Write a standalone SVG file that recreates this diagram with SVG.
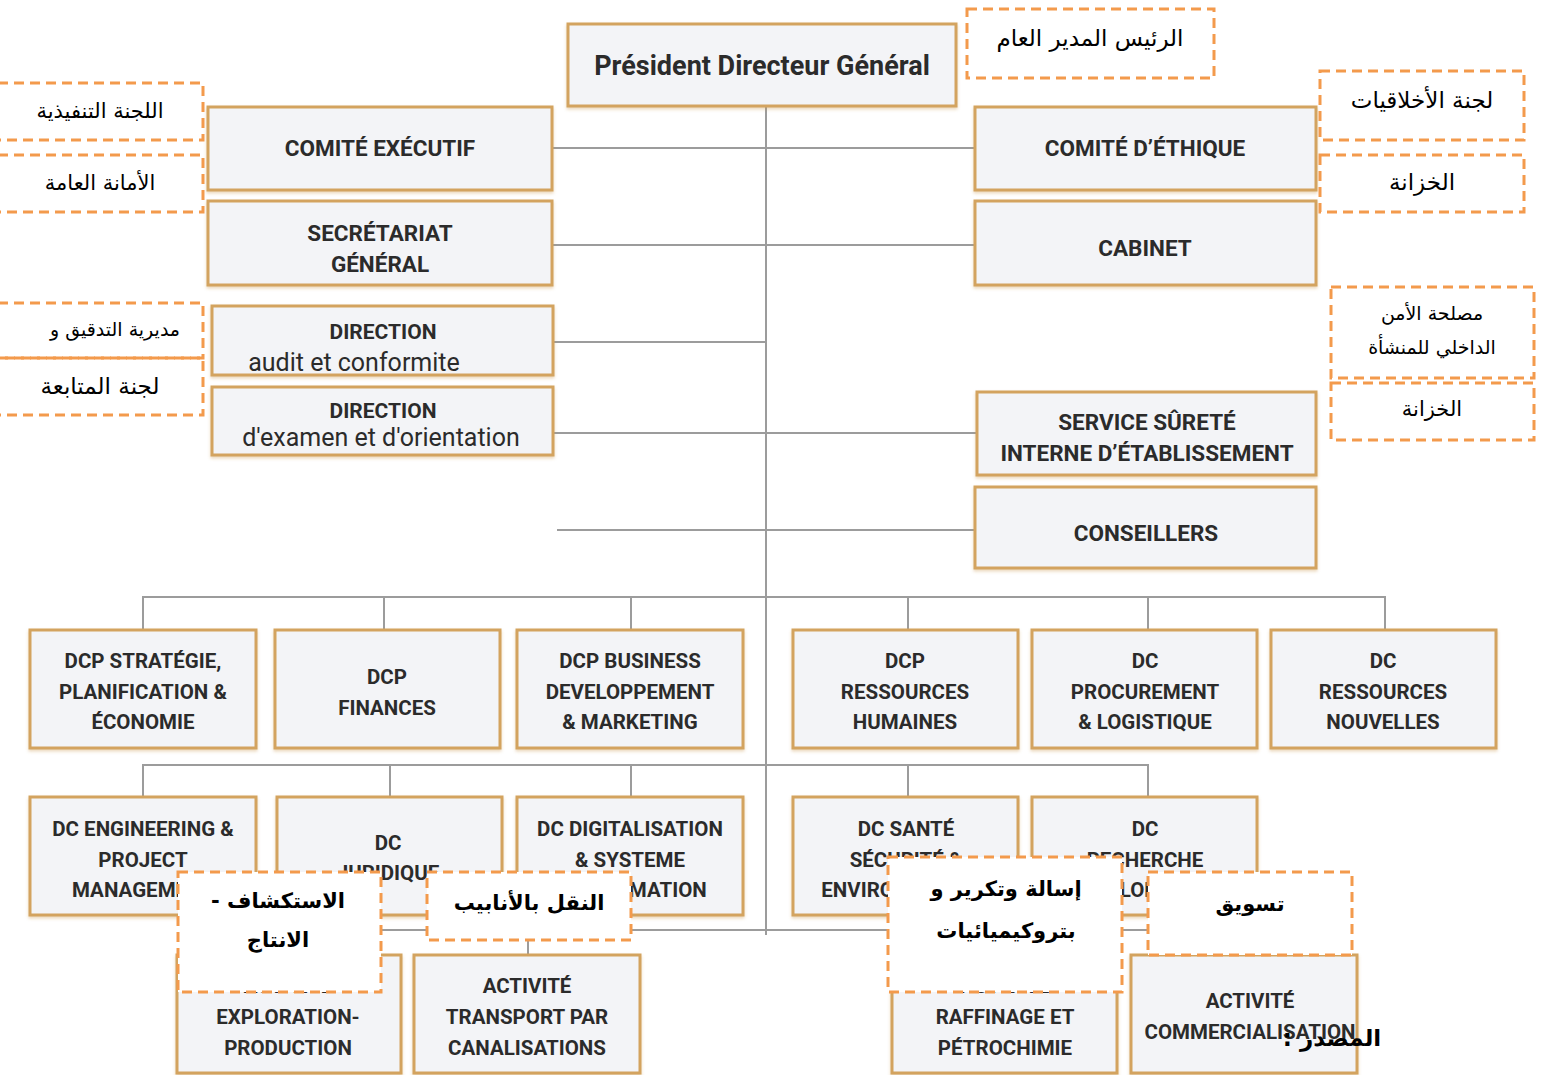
<svg xmlns="http://www.w3.org/2000/svg" width="1541" height="1075" viewBox="0 0 1541 1075">
<defs>
<filter id="sh" x="-5%" y="-5%" width="110%" height="115%"><feDropShadow dx="0" dy="2" stdDeviation="1.5" flood-color="#c89040" flood-opacity="0.35"/></filter>
</defs>
<style>
.box{fill:#f3f4f7;stroke:#d3a35e;stroke-width:3;filter:url(#sh)}
.t{font-family:Roboto,"Liberation Sans",sans-serif;font-weight:bold;fill:#2b2b2b;text-anchor:middle;font-size:20.5px}
.tb{font-size:22.5px}
.td{font-size:21px}
.tr{font-weight:normal;font-size:25px}
.ln{stroke:#9c9c9c;stroke-width:2;fill:none}
.ar{fill:none;stroke:#f39a4c;stroke-width:3;stroke-dasharray:10 6}
.arw{fill:#ffffff;stroke:#f39a4c;stroke-width:3;stroke-dasharray:10 6}
.a{font-family:"DejaVu Sans","Liberation Sans",sans-serif;fill:#000;text-anchor:middle;direction:rtl;unicode-bidi:embed;font-size:21px}
.ab{font-weight:bold}
</style>
<rect x="0" y="0" width="1541" height="1075" fill="#ffffff"/>
<g id="connectors">
<path class="ln" d="M766 106V935"/>
<path class="ln" d="M552 148H975M552 245H975M553 342H766M553 433H977M557 530H975"/>
<path class="ln" d="M143 630V597H1385V630M384 597V630M631 597V630M908 597V630M1148 597V630"/>
<path class="ln" d="M143 797V765H1148V797M390 765V797M631 765V797M908 765V797"/>
<path class="ln" d="M288 955V930H1250V955M528 930V955M1005 930V955"/>
</g>
<g id="pdg"><rect class="box" x="568" y="24" width="388" height="82"/><text class="t" x="762" y="75" style="font-size:27px">Président Directeur Général</text></g>
<g id="comite-executif"><rect class="box" x="208" y="107" width="344" height="83"/><text class="t tb" x="380" y="156">COMITÉ EXÉCUTIF</text></g>
<g id="secretariat"><rect class="box" x="208" y="201" width="344" height="84"/><text class="t tb" x="380" y="241">SECRÉTARIAT</text><text class="t tb" x="380" y="272">GÉNÉRAL</text></g>
<g id="direction-audit"><rect class="box" x="212" y="306" width="341" height="69"/><text class="t td" x="383" y="339">DIRECTION</text><text class="t tr" x="354" y="371">audit et conformite</text></g>
<g id="direction-examen"><rect class="box" x="212" y="387" width="341" height="68"/><text class="t td" x="383" y="418">DIRECTION</text><text class="t tr" x="381" y="446">d'examen et d'orientation</text></g>
<g id="comite-ethique"><rect class="box" x="975" y="107" width="341" height="83"/><text class="t tb" x="1145" y="156">COMITÉ D’ÉTHIQUE</text></g>
<g id="cabinet"><rect class="box" x="975" y="201" width="341" height="84"/><text class="t tb" x="1145" y="256">CABINET</text></g>
<g id="surete"><rect class="box" x="977" y="392" width="339" height="83"/><text class="t tb" x="1147" y="430">SERVICE SÛRETÉ</text><text class="t tb" x="1147" y="461">INTERNE D’ÉTABLISSEMENT</text></g>
<g id="conseillers"><rect class="box" x="975" y="487" width="341" height="81"/><text class="t tb" x="1146" y="541">CONSEILLERS</text></g>

<g id="dcp-strategie"><rect class="box" x="30" y="630" width="226" height="118"/><text class="t" x="143" y="668">DCP STRATÉGIE,</text><text class="t" x="143" y="699">PLANIFICATION &amp;</text><text class="t" x="143" y="729">ÉCONOMIE</text></g>
<g id="dcp-finances"><rect class="box" x="275" y="630" width="225" height="118"/><text class="t" x="387" y="684">DCP</text><text class="t" x="387" y="715">FINANCES</text></g>
<g id="dcp-business"><rect class="box" x="517" y="630" width="226" height="118"/><text class="t" x="630" y="668">DCP BUSINESS</text><text class="t" x="630" y="699">DEVELOPPEMENT</text><text class="t" x="630" y="729">&amp; MARKETING</text></g>
<g id="dcp-rh"><rect class="box" x="793" y="630" width="225" height="118"/><text class="t" x="905" y="668">DCP</text><text class="t" x="905" y="699">RESSOURCES</text><text class="t" x="905" y="729">HUMAINES</text></g>
<g id="dc-procurement"><rect class="box" x="1032" y="630" width="225" height="118"/><text class="t" x="1145" y="668">DC</text><text class="t" x="1145" y="699">PROCUREMENT</text><text class="t" x="1145" y="729">&amp; LOGISTIQUE</text></g>
<g id="dc-ressources-nouvelles"><rect class="box" x="1271" y="630" width="225" height="118"/><text class="t" x="1383" y="668">DC</text><text class="t" x="1383" y="699">RESSOURCES</text><text class="t" x="1383" y="729">NOUVELLES</text></g>

<g id="dc-engineering"><rect class="box" x="30" y="797" width="226" height="118"/><text class="t" x="143" y="836">DC ENGINEERING &amp;</text><text class="t" x="143" y="867">PROJECT</text><text class="t" x="143" y="897">MANAGEMENT</text></g>
<g id="dc-juridique"><rect class="box" x="277" y="797" width="225" height="118"/><text class="t" x="388" y="850">DC</text><text class="t" x="388" y="880">JURIDIQUE</text></g>
<g id="dc-digitalisation"><rect class="box" x="517" y="797" width="226" height="118"/><text class="t" x="630" y="836">DC DIGITALISATION</text><text class="t" x="630" y="867">&amp; SYSTEME</text><text class="t" x="630" y="897">D'INFORMATION</text></g>
<g id="dc-sante"><rect class="box" x="793" y="797" width="225" height="118"/><text class="t" x="906" y="836">DC SANTÉ</text><text class="t" x="906" y="867">SÉCURITÉ &amp;</text><text class="t" x="906" y="897">ENVIRONNEMENT</text></g>
<g id="dc-recherche"><rect class="box" x="1032" y="797" width="225" height="118"/><text class="t" x="1145" y="836">DC</text><text class="t" x="1145" y="867">RECHERCHE</text><text class="t" x="1145" y="897">&amp; DÉVELOPPEMENT</text></g>

<g id="act-exploration"><rect class="box" x="177" y="955" width="224" height="118"/><text class="t" x="288" y="993">ACTIVITÉ</text><text class="t" x="288" y="1024">EXPLORATION-</text><text class="t" x="288" y="1055">PRODUCTION</text></g>
<g id="act-transport"><rect class="box" x="414" y="955" width="226" height="118"/><text class="t" x="527" y="993">ACTIVITÉ</text><text class="t" x="527" y="1024">TRANSPORT PAR</text><text class="t" x="527" y="1055">CANALISATIONS</text></g>
<g id="act-raffinage"><rect class="box" x="892" y="955" width="225" height="118"/><text class="t" x="1005" y="993">ACTIVITÉ</text><text class="t" x="1005" y="1024">RAFFINAGE ET</text><text class="t" x="1005" y="1055">PÉTROCHIMIE</text></g>
<g id="act-commercialisation"><rect class="box" x="1131" y="955" width="226" height="118"/><text class="t" x="1250" y="1008">ACTIVITÉ</text><text class="t" x="1250" y="1039">COMMERCIALISATION</text></g>

<g id="ar-pdg"><rect class="ar" x="967" y="9" width="247" height="69"/><text class="a" x="1090" y="46" style="font-size:23px">الرئيس المدير العام</text></g>
<g id="ar-executif"><rect class="ar" x="-2" y="83" width="205" height="57"/><text class="a" x="100" y="118">اللجنة التنفيذية</text></g>
<g id="ar-secretariat"><rect class="ar" x="-2" y="155" width="205" height="57"/><text class="a" x="100" y="190">الأمانة العامة</text></g>
<g id="ar-ethique"><rect class="ar" x="1320" y="71" width="204" height="69"/><text class="a" x="1422" y="108" style="font-size:23px">لجنة الأخلاقيات</text></g>
<g id="ar-cabinet"><rect class="ar" x="1320" y="155" width="204" height="57"/><text class="a" x="1422" y="190" style="font-size:23px">الخزانة</text></g>
<g id="ar-audit"><rect class="ar" x="-2" y="303" width="205" height="55"/><text class="a" x="115" y="336" style="font-size:19px">مديرية التدقيق و</text></g>
<g id="ar-examen"><rect class="ar" x="-2" y="358" width="205" height="57"/><text class="a" x="100" y="394" style="font-size:23px">لجنة المتابعة</text></g>
<g id="ar-surete"><rect class="ar" x="1331" y="287" width="203" height="91"/><text class="a" x="1432" y="320" style="font-size:19px">مصلحة الأمن</text><text class="a" x="1432" y="354" style="font-size:19px">الداخلي للمنشأة</text></g>
<g id="ar-conseillers"><rect class="ar" x="1331" y="383" width="203" height="57"/><text class="a" x="1432" y="416">الخزانة</text></g>
<g id="ar-exploration"><rect class="arw" x="178" y="872" width="203" height="120"/><text class="a ab" x="278" y="908">الاستكشاف -</text><text class="a ab" x="278" y="947">الانتاج</text></g>
<g id="ar-transport"><rect class="arw" x="427" y="872" width="204" height="68"/><text class="a ab" x="529" y="910">النقل بالأنابيب</text></g>
<g id="ar-raffinage"><rect class="arw" x="888" y="857" width="234" height="135"/><text class="a ab" x="1006" y="896">إسالة وتكرير و</text><text class="a ab" x="1006" y="938">بتروكيميائيات</text></g>
<g id="ar-commercialisation"><rect class="arw" x="1148" y="872" width="204" height="83"/><text class="a ab" x="1250" y="911">تسويق</text></g>
<text class="a ab" x="1332" y="1046" style="font-size:23px">المصدر :</text>
</svg>
